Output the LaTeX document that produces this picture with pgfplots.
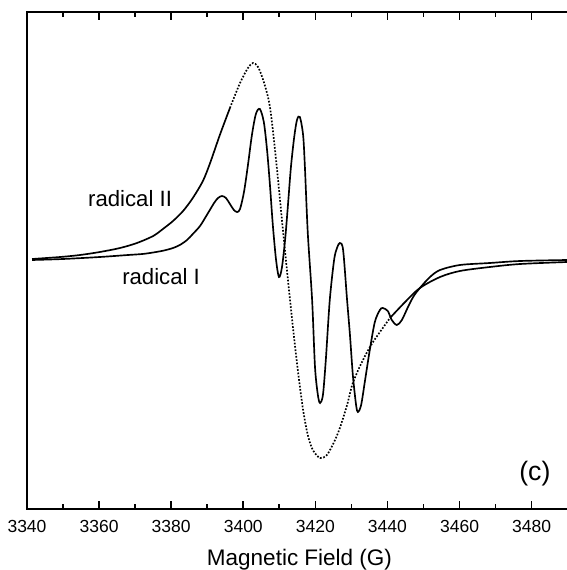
\documentclass[border=0pt]{standalone}
\usepackage{pgfplots}
\pgfplotsset{compat=1.18}
\usepackage{fontspec}
\setmainfont{Liberation Sans}

\begin{document}
\begin{tikzpicture}
\begin{axis}[
  name=ax,
  scale only axis,
  width=327pt, height=298.2pt,
  xmin=3340, xmax=3491.2,
  ymin=-249, ymax=248,
  xtick={3340,3360,...,3480},
  minor xtick={3350,3370,...,3470},
  ytick=\empty,
  tick align=inside,
  major tick length=4.8pt,
  minor tick length=2.8pt,
  every tick/.style={line width=1pt, black},
  axis line style={line width=1.1pt},
  /pgf/number format/assume math mode=true,
  /pgf/number format/1000 sep={},
  xticklabel style={font=\fontsize{10.5}{12}\selectfont, anchor=base, yshift=-13.8pt},
  xlabel={Magnetic Field (G)},
  xlabel style={font=\fontsize{13.5}{16}\selectfont, at={(axis description cs:0.5,0)}, anchor=base, yshift=-33.6pt},
]
% radical I
\addplot[black, line width=1pt, smooth] coordinates {
  (3341.4,0) (3350.0,1) (3360.2,3) (3368.0,5) (3372.0,6) (3375.0,7.5)
  (3378.0,9.5) (3380.5,12) (3382.4,15) (3384.4,20) (3386.0,26) (3388.0,34)
  (3389.9,45) (3391.9,57) (3393.0,62) (3394.1,64) (3395.2,62) (3396.3,56)
  (3397.4,50) (3398.3,48) (3399.1,51) (3400.2,68) (3401.3,95) (3402.4,125)
  (3403.5,146) (3404.6,151) (3405.7,138) (3406.6,110) (3407.4,75) (3408.2,35)
  (3409.1,0) (3409.9,-17) (3410.7,-8) (3411.6,20) (3412.4,55) (3413.2,92)
  (3414.1,122) (3414.9,140) (3415.7,143) (3416.6,125) (3417.1,93) (3417.9,27)
  (3419.1,-40) (3419.9,-107) (3420.7,-135) (3421.3,-143) (3422.1,-135)
  (3422.9,-100) (3424.0,-40) (3425.2,0) (3426.0,12) (3426.8,17) (3427.7,10)
  (3428.8,-40) (3429.6,-75) (3430.4,-115) (3431.3,-145) (3431.8,-152)
  (3432.7,-145) (3433.8,-120) (3435.1,-90) (3436.5,-62) (3437.9,-50)
  (3438.7,-48) (3440.1,-51) (3441.2,-60) (3442.6,-65) (3444.0,-60)
  (3445.7,-47) (3447.3,-36) (3449.0,-28) (3451.8,-17) (3454.6,-10)
  (3460.1,-5) (3468.4,-3) (3476.8,-1) (3489.8,0)
};
% radical II (sparse points on the steep part look dotted)
\addplot[black, line width=1pt, smooth] coordinates {
  (3341.4,1) (3349.2,3) (3354.7,5) (3360.2,8) (3365.8,12) (3370.5,17)
  (3375.0,24) (3377.7,31) (3380.5,39) (3383.3,49) (3386.0,62) (3388.8,79)
  (3390.8,97) (3393.5,125) (3396.3,152)
};
\addplot[black, line width=1pt, smooth, densely dotted] coordinates {
  (3396.3,152) (3399.1,177) (3401.3,192) (3402.7,197) (3404.1,193)
  (3405.7,178) (3407.4,153) (3409.1,100) (3411.0,30) (3412.4,-20)
  (3413.8,-68) (3415.2,-112) (3416.6,-150) (3417.9,-175) (3419.3,-190)
  (3421.3,-198) (3423.2,-195) (3425.2,-182) (3426.8,-168) (3428.8,-145)
  (3430.4,-123) (3433.2,-100) (3436.0,-82) (3440.7,-58)
};
\addplot[black, line width=1pt, smooth] coordinates {
  (3440.7,-58) (3444.9,-42) (3449.0,-28) (3454.6,-17) (3460.1,-11)
  (3468.4,-7) (3476.8,-4) (3489.8,-2)
};
\node[font=\fontsize{13.3}{15}\selectfont] at (axis cs:3368.6,61) {radical II};
\node[font=\fontsize{13.3}{15}\selectfont] at (axis cs:3377.2,-17) {radical I};
\node[font=\fontsize{16}{18}\selectfont] at (axis cs:3480.9,-214) {(c)};
\end{axis}
\pgfresetboundingbox
\path ([xshift=-16.2pt, yshift=-36.6pt]ax.south west) rectangle ([xshift=324pt, yshift=7.2pt]ax.north west);
\end{tikzpicture}
\end{document}
